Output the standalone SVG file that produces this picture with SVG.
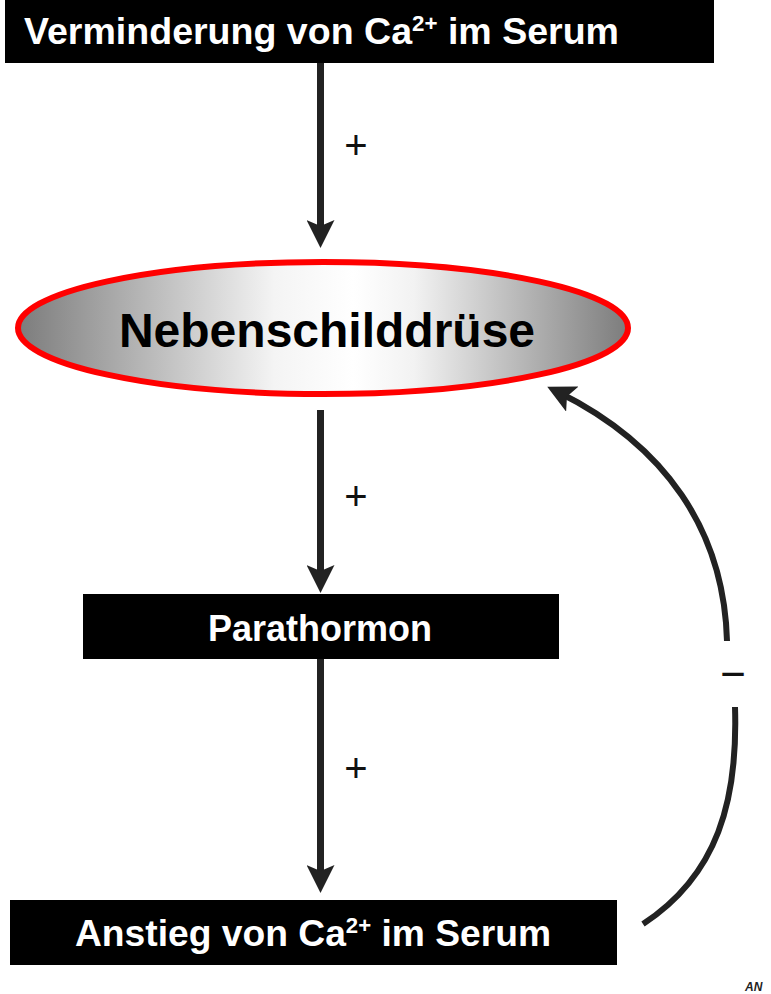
<svg xmlns="http://www.w3.org/2000/svg" width="771" height="994" viewBox="0 0 771 994">
<style>
.box{fill:#000}
.wt{fill:#fff;font-family:"Liberation Sans",Arial,sans-serif;font-weight:bold}
.sym{fill:#111;font-family:"Liberation Sans",Arial,sans-serif;font-weight:normal;text-anchor:middle}
.conn{fill:none;stroke:#222;stroke-width:7}
.fb{fill:none;stroke:#222;stroke-width:6}
</style>
<defs>
<linearGradient id="g" x1="0" y1="0" x2="1" y2="0">
<stop offset="0" stop-color="#7c7c7c"/>
<stop offset="0.42" stop-color="#f4f4f4"/>
<stop offset="0.55" stop-color="#ffffff"/>
<stop offset="0.65" stop-color="#f2f2f2"/>
<stop offset="1" stop-color="#7c7c7c"/>
</linearGradient>
<marker id="ah" markerUnits="userSpaceOnUse" viewBox="0 0 28 28" refX="16" refY="14" markerWidth="28" markerHeight="28" orient="auto">
<path d="M0,0 L28,14 L0,28 L6,14 z" fill="#222"/>
</marker>
</defs>
<rect width="771" height="994" fill="#fff"/>

<g id="connectors">
<line class="conn" x1="320.5" y1="63" x2="320.5" y2="236" marker-end="url(#ah)"/>
<line class="conn" x1="320.5" y1="410" x2="320.5" y2="581" marker-end="url(#ah)"/>
<line class="conn" x1="320.5" y1="658" x2="320.5" y2="881" marker-end="url(#ah)"/>
<path class="fb" d="M727,641 C724,530 665,445 558,392" marker-end="url(#ah)"/>
<path class="fb" d="M735,707 C738,800 718,875 643,924"/>
<text class="sym" x="356" y="159" font-size="40">+</text>
<text class="sym" x="356" y="510" font-size="40">+</text>
<text class="sym" x="356" y="782" font-size="40">+</text>
<text class="sym" x="733" y="689" font-size="44">−</text>
</g>

<g id="n1">
<rect class="box" x="5" y="0" width="709" height="63"/>
<text class="wt" x="24" y="44" font-size="37" textLength="595" lengthAdjust="spacingAndGlyphs">Verminderung von Ca<tspan font-size="22" dy="-13">2+</tspan><tspan dy="13"> im Serum</tspan></text>
</g>

<g id="n2">
<ellipse cx="323" cy="328" rx="305" ry="66" fill="url(#g)" stroke="#ff0000" stroke-width="6"/>
<text x="327" y="347" font-size="48" font-family="'Liberation Sans',Arial,sans-serif" font-weight="bold" text-anchor="middle" fill="#000">Nebenschilddrüse</text>
</g>

<g id="n3">
<rect class="box" x="83" y="594" width="476" height="65"/>
<text class="wt" x="320" y="641" font-size="36" text-anchor="middle">Parathormon</text>
</g>

<g id="n4">
<rect class="box" x="10" y="900" width="607" height="65"/>
<text class="wt" x="75" y="946" font-size="37" textLength="476" lengthAdjust="spacingAndGlyphs">Anstieg von Ca<tspan font-size="22" dy="-13">2+</tspan><tspan dy="13"> im Serum</tspan></text>
</g>

<text x="745" y="991" font-size="12" font-family="'Liberation Sans',Arial,sans-serif" font-weight="bold" font-style="italic" fill="#222">AN</text>
</svg>
